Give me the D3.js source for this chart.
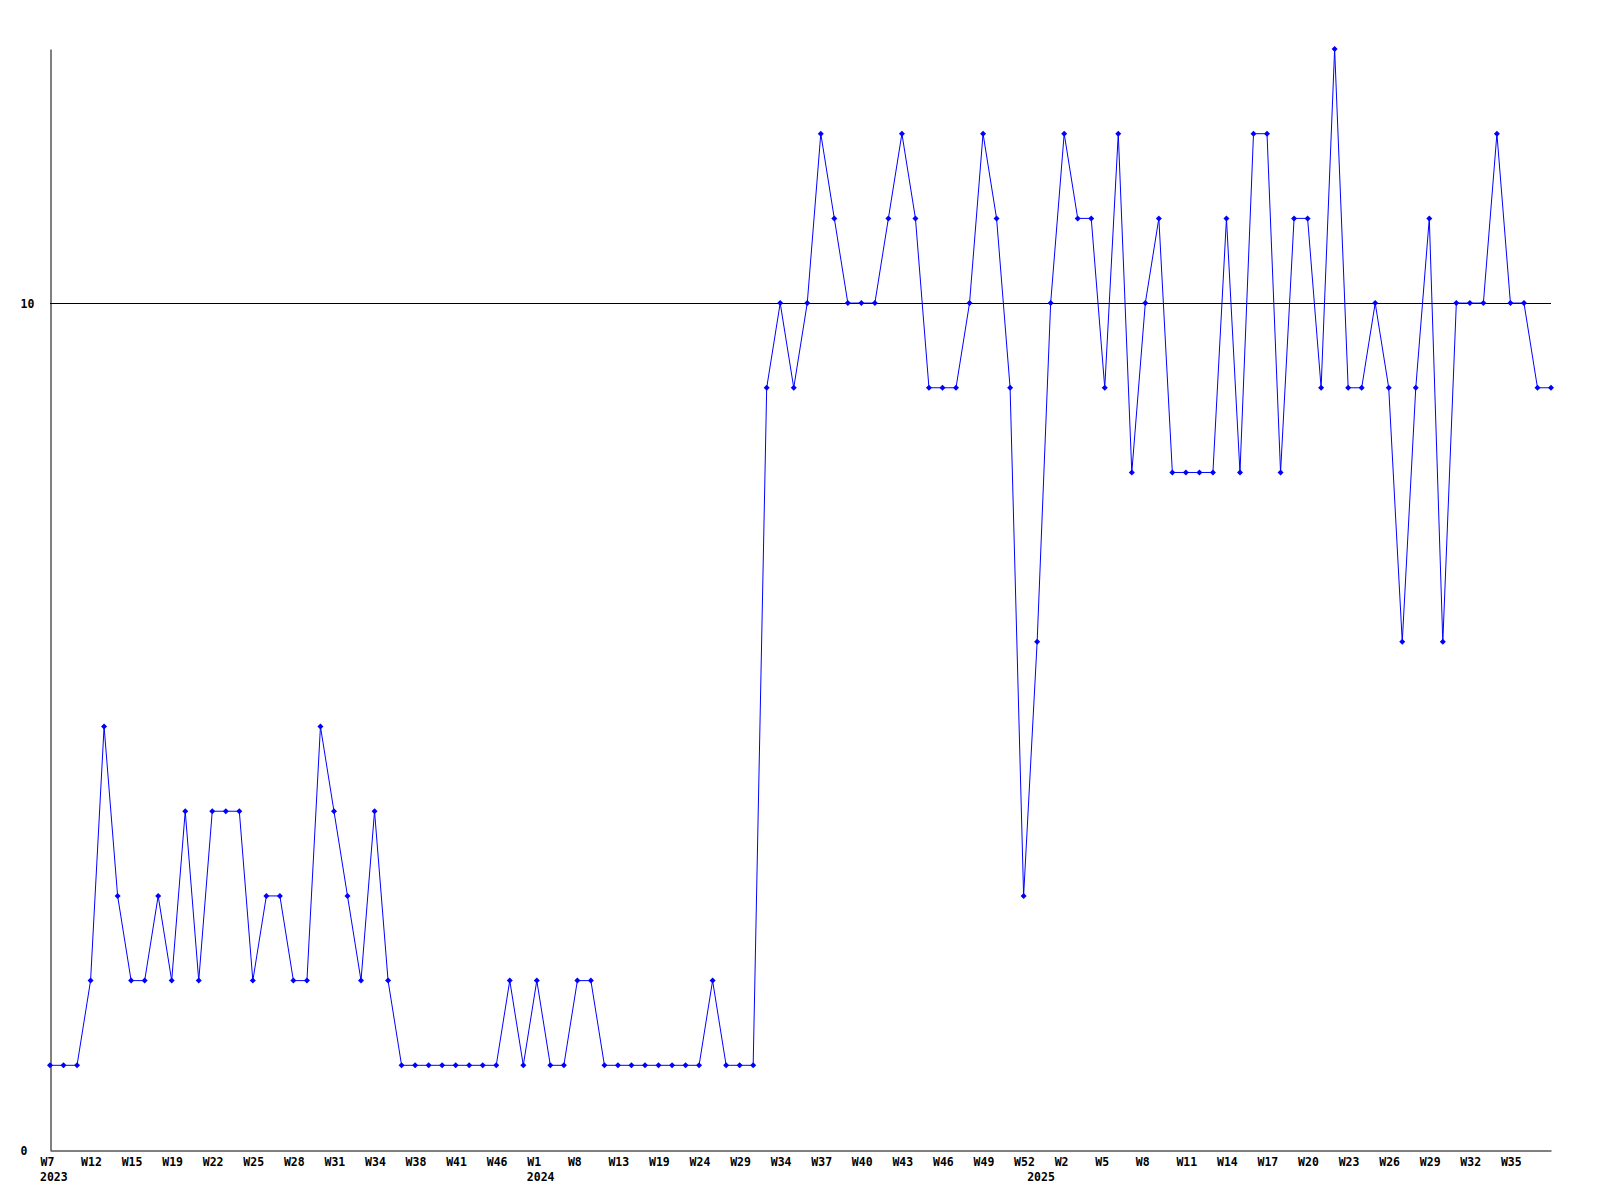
<!DOCTYPE html>
<html>
<head>
<meta charset="utf-8">
<script src="https://cdn.jsdelivr.net/npm/d3@7"></script>
<style>
  body { margin: 0; background: #fff; }
  svg text { font-family: "DejaVu Sans Mono", "Liberation Mono", monospace; font-weight: bold; font-size: 11.5px; fill: #000; }
</style>
</head>
<body>
<svg id="stage" width="1600" height="1200"></svg>
<script>
// weekly values, one per point
var values = [1,1,1,2,5,3,2,2,3,2,4,2,4,4,4,2,3,3,2,2,5,4,3,2,4,2,
  1,1,1,1,1,1,1,1,2,1,2,1,1,2,2,1,1,1,1,1,1,1,1,2,1,1,1,
  9,10,9,10,12,11,10,10,10,11,12,11,9,9,9,10,12,11,9,3,6,10,12,11,11,9,12,
  8,10,11,8,8,8,8,11,8,12,12,8,11,11,9,13,9,9,10,9,6,9,11,6,10,10,10,12,10,10,9,9];

// x labels, shown every 3rd point
var weekLabels = ["W7","W12","W15","W19","W22","W25","W28","W31","W34","W38","W41","W46",
  "W1","W8","W13","W19","W24","W29","W34","W37","W40","W43","W46","W49","W52",
  "W2","W5","W8","W11","W14","W17","W20","W23","W26","W29","W32","W35"];
var labelStep = 3;

// year labels and the point index where each year begins
var years = ["2023","2024","2025"];
var yearStart = [0, 36, 73];

var yTicks = [0, 10];
var yMax = 13;

var svg = d3.select("#stage");

var plotLeft = 50, plotRight = 1551, plotTop = 49, plotBottom = 1150;

var x = d3.scaleLinear().domain([0, values.length - 1]).range([plotLeft, plotRight]);
var y = d3.scaleLinear().domain([0, yMax]).range([plotBottom, plotTop]);

//grid line at 10
svg.append("line")
  .attr("x1", plotLeft).attr("x2", plotRight)
  .attr("y1", Math.round(y(10)) + 0.5).attr("y2", Math.round(y(10)) + 0.5)
  .attr("stroke", "#000").attr("stroke-width", 1);

//x axis
var tickIdx = weekLabels.map(function(d, i){ return i * labelStep; });
var xAxis = d3.axisBottom(x)
  .tickValues(tickIdx)
  .tickFormat(function(d){ return weekLabels[d / labelStep]; })
  .tickSize(0).tickSizeOuter(0);

var gx = svg.append("g")
  .attr("transform", "translate(0," + (plotBottom + 0.5) + ")")
  .call(xAxis);
gx.select(".domain").attr("stroke", "#000");
gx.selectAll("text")
  .attr("text-anchor", "start")
  .attr("x", -10).attr("y", 7).attr("dy", "0.71em");
gx.attr("font-family", null).attr("font-size", null);

//year labels
svg.selectAll(".year").data(years)
  .enter().append("text")
  .attr("class", "year")
  .attr("x", function(d, i){ return x(yearStart[i]) - 10; })
  .attr("y", 1181)
  .text(function(d){ return d; });

//y axis
var yAxis = d3.axisLeft(y).tickValues(yTicks).tickSize(0).tickSizeOuter(0);
var gy = svg.append("g")
  .attr("transform", "translate(" + (plotLeft + 0.5) + ",0)")
  .call(yAxis);
gy.select(".domain").attr("stroke", "#000");
gy.selectAll("text")
  .attr("text-anchor", "start")
  .attr("x", -30).attr("dy", "0.35em");
gy.attr("font-family", null).attr("font-size", null);

//line
var line = d3.line()
  .x(function(d, i){ return x(i); })
  .y(function(d){ return y(d); });

svg.append("path")
  .datum(values)
  .attr("d", line)
  .attr("fill", "none")
  .attr("stroke", "#0000ff")
  .attr("stroke-width", 1);

//markers
svg.selectAll(".dot").data(values)
  .enter().append("path")
  .attr("class", "dot")
  .attr("transform", function(d, i){ return "translate(" + x(i) + "," + y(d) + ")"; })
  .attr("d", "M0,-3L3,0L0,3L-3,0Z")
  .attr("fill", "#0000ff");
</script>
</body>
</html>
